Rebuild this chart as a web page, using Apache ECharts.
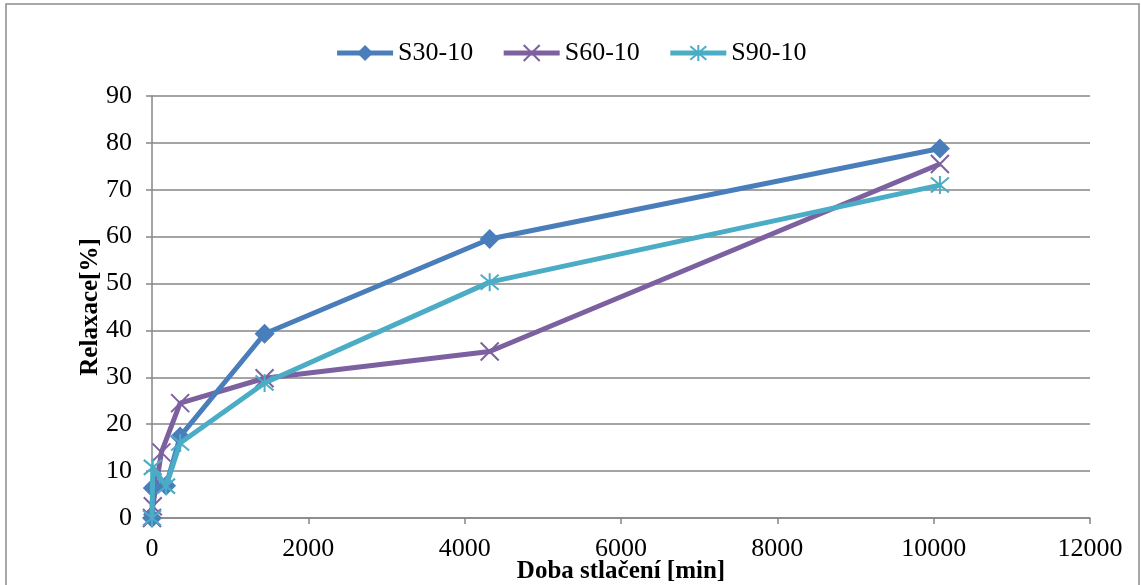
<!DOCTYPE html>
<html>
<head>
<meta charset="utf-8">
<script src="https://cdn.jsdelivr.net/npm/echarts@6/dist/echarts.min.js"></script>
<style>
  html, body { margin: 0; padding: 0; background: #fff; }
  #chart { width: 1141px; height: 585px; }
</style>
</head>
<body>
<div id="chart"></div>
<script>
// Compression time in minutes and relaxation in percent for each sample
const seriesNames = ['S30-10', 'S60-10', 'S90-10'];
const timeS30 = [0, 10, 180, 360, 1440, 4320, 10080];
const relaxS30 = [0, 6.4, 6.9, 17.4, 39.3, 59.5, 78.8];
const timeS60 = [0, 10, 120, 360, 1440, 4320, 10080];
const relaxS60 = [0, 2.5, 14.0, 24.5, 29.8, 35.5, 75.5];
const timeS90 = [0, 10, 180, 360, 1440, 4320, 10080];
const relaxS90 = [0, 10.8, 6.8, 16.0, 28.8, 50.3, 71.0];
const colors = ['#4a7ebb', '#7d60a0', '#4bacc6'];

const FONT = '"Liberation Serif", "Times New Roman", serif';

function pairs(xs, ys) { return xs.map((x, i) => [x, ys[i]]); }

const crossPath = 'path://M0,0L20,20M20,0L0,20';
const starPath = 'path://M0,0L20,20M20,0L0,20M10,-2L10,22';

const chart = echarts.init(document.getElementById('chart'), null, { renderer: 'canvas' });

chart.setOption({
  animation: false,
  backgroundColor: '#ffffff',
  graphic: [{
    type: 'rect',
    shape: { x: 6, y: 4, width: 1133, height: 620 },
    style: { fill: 'none', stroke: '#8c8c8c', lineWidth: 1.5 },
    silent: true, z: -1
  }],
  legend: {
    top: 35,
    left: 'center',
    itemWidth: 56,
    itemHeight: 20,
    itemGap: 28,
    lineStyle: { width: 5 },
    textStyle: { fontFamily: FONT, fontSize: 26, color: '#000' },
    data: seriesNames
  },
  grid: { left: 152, right: 51, top: 96, bottom: 67, containLabel: false, outerBoundsMode: 'none' },
  xAxis: {
    type: 'value',
    min: 0, max: 12000, interval: 2000,
    name: 'Doba stlačení [min]',
    nameLocation: 'middle',
    nameMoveOverlap: false,
    nameGap: 41,
    nameTextStyle: { fontFamily: FONT, fontSize: 25, fontWeight: 'bold', color: '#000' },
    axisLine: { show: true, lineStyle: { color: '#868686', width: 1.5 } },
    axisTick: { show: true, length: 6, lineStyle: { color: '#868686', width: 1.5 } },
    axisLabel: { margin: 18, fontFamily: FONT, fontSize: 26, color: '#000', formatter: v => String(v) },
    splitLine: { show: false }
  },
  yAxis: {
    type: 'value',
    min: 0, max: 90, interval: 10,
    name: 'Relaxace[%]',
    nameLocation: 'middle',
    nameMoveOverlap: false,
    nameGap: 49,
    nameRotate: 90,
    nameTextStyle: { fontFamily: FONT, fontSize: 25, fontWeight: 'bold', color: '#000' },
    axisLine: { show: true, lineStyle: { color: '#868686', width: 1.5 } },
    axisTick: { show: true, length: 6, lineStyle: { color: '#868686', width: 1.5 } },
    axisLabel: { margin: 20, fontFamily: FONT, fontSize: 26, color: '#000' },
    splitLine: { show: true, lineStyle: { color: '#868686', width: 1.5 } }
  },
  series: [
    {
      name: seriesNames[0], type: 'line',
      data: pairs(timeS30, relaxS30),
      symbol: 'diamond', symbolSize: 20,
      lineStyle: { color: colors[0], width: 5 },
      itemStyle: { color: colors[0] },
      z: 3
    },
    {
      name: seriesNames[1], type: 'line',
      data: pairs(timeS60, relaxS60),
      symbol: crossPath, symbolSize: 18,
      lineStyle: { color: colors[1], width: 5 },
      itemStyle: { color: 'none', borderColor: colors[1], borderWidth: 2 },
      z: 2
    },
    {
      name: seriesNames[2], type: 'line',
      data: pairs(timeS90, relaxS90),
      symbol: starPath, symbolSize: 18,
      lineStyle: { color: colors[2], width: 5 },
      itemStyle: { color: 'none', borderColor: colors[2], borderWidth: 2 },
      z: 4
    }
  ]
});
</script>
</body>
</html>
